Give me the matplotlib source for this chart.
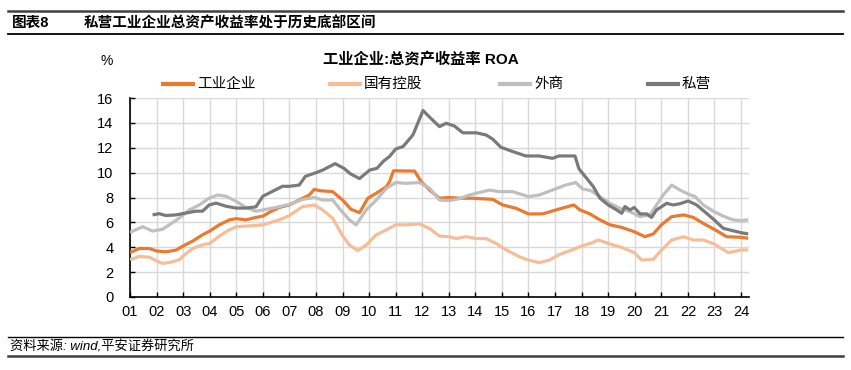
import matplotlib
matplotlib.use("Agg")
import matplotlib.pyplot as plt
from matplotlib.lines import Line2D

plt.rcParams['font.family'] = ['Liberation Sans', 'Noto Sans CJK SC', 'DejaVu Sans']

# ---------------- data (decimal year, ROA %) ----------------
ind_t = [2001.0, 2001.35, 2001.73, 2002.0, 2002.35, 2002.73, 2003.0, 2003.36, 2003.73, 2004.0,
         2004.36, 2004.74, 2005.0, 2005.36, 2005.74, 2006.0, 2006.24, 2006.62, 2007.0, 2007.37,
         2007.75, 2007.94, 2008.13, 2008.63, 2009.0, 2009.32, 2009.64, 2009.95, 2010.27, 2010.65,
         2010.77, 2010.92, 2011.4, 2011.71, 2011.96, 2012.28, 2012.65, 2013.0, 2013.4, 2013.9,
         2014.65, 2015.03, 2015.53, 2016.0, 2016.53, 2017.03, 2017.7, 2017.94, 2018.31, 2018.69,
         2019.07, 2019.5, 2019.98, 2020.38, 2020.7, 2021.0, 2021.39, 2021.83, 2022.2, 2022.58,
         2022.99, 2023.46, 2024.0, 2024.27]
ind_v = [3.58, 3.9, 3.9, 3.7, 3.63, 3.77, 4.1, 4.5, 5.0, 5.3,
         5.8, 6.2, 6.3, 6.2, 6.4, 6.5, 6.8, 7.2, 7.4, 7.8,
         8.2, 8.66, 8.55, 8.47, 7.8, 7.05, 6.78, 7.94, 8.34, 8.87,
         9.28, 10.15, 10.13, 10.13, 9.28, 8.6, 7.94, 8.0, 7.94, 7.94,
         7.85, 7.4, 7.13, 6.68, 6.68, 7.0, 7.4, 7.0, 6.68, 6.2,
         5.8, 5.6, 5.25, 4.85, 5.07, 5.8, 6.46, 6.6, 6.4, 5.92,
         5.44, 4.85, 4.8, 4.72]

soe_t = [2001.0, 2001.35, 2001.73, 2002.0, 2002.23, 2002.54, 2002.86, 2003.0, 2003.36, 2003.73,
         2004.0, 2004.36, 2004.74, 2005.0, 2005.36, 2005.74, 2006.0, 2006.24, 2006.62, 2007.0,
         2007.5, 2007.94, 2008.25, 2008.63, 2008.98, 2009.26, 2009.58, 2009.89, 2010.27, 2010.65,
         2011.0, 2011.4, 2011.9, 2012.28, 2012.65, 2013.0, 2013.28, 2013.65, 2014.03, 2014.4,
         2014.78, 2015.15, 2015.65, 2016.0, 2016.4, 2016.78, 2017.15, 2017.65, 2018.0, 2018.31,
         2018.63, 2019.07, 2019.5, 2019.98, 2020.26, 2020.7, 2021.01, 2021.39, 2021.83, 2022.2,
         2022.58, 2022.99, 2023.52, 2024.0, 2024.27]
soe_v = [3.0, 3.26, 3.2, 2.9, 2.7, 2.8, 3.0, 3.3, 3.9, 4.2,
         4.3, 4.9, 5.4, 5.65, 5.7, 5.75, 5.8, 5.95, 6.2, 6.55,
         7.27, 7.4, 7.0, 6.33, 5.0, 4.18, 3.73, 4.18, 5.0, 5.4,
         5.8, 5.8, 5.87, 5.5, 4.9, 4.85, 4.7, 4.85, 4.7, 4.7,
         4.3, 3.8, 3.24, 2.97, 2.76, 2.97, 3.4, 3.8, 4.1, 4.3,
         4.58, 4.26, 4.0, 3.57, 2.97, 3.03, 3.78, 4.58, 4.85, 4.58,
         4.58, 4.26, 3.57, 3.78, 3.78]

fdi_t = [2001.0, 2001.48, 2001.85, 2002.23, 2002.48, 2002.86, 2003.23, 2003.61, 2003.98, 2004.3,
         2004.61, 2004.99, 2005.36, 2005.74, 2006.0, 2006.49, 2007.0, 2007.5, 2007.94, 2008.25,
         2008.63, 2008.98, 2009.26, 2009.51, 2009.89, 2010.27, 2010.65, 2011.0, 2011.4, 2011.9,
         2012.28, 2012.65, 2013.0, 2013.4, 2013.78, 2014.15, 2014.53, 2014.9, 2015.4, 2016.0,
         2016.4, 2016.9, 2017.4, 2017.78, 2018.03, 2018.35, 2018.69, 2019.07, 2019.44, 2019.82,
         2020.2, 2020.57, 2020.82, 2021.07, 2021.39, 2021.7, 2022.01, 2022.27, 2022.58, 2022.99,
         2023.33, 2023.71, 2024.0, 2024.27]
fdi_v = [5.2, 5.65, 5.3, 5.45, 5.8, 6.35, 7.0, 7.4, 7.95, 8.2,
         8.1, 7.7, 7.2, 6.9, 7.0, 7.2, 7.45, 7.85, 8.0, 7.8,
         7.8, 6.86, 6.2, 5.8, 7.0, 7.8, 8.74, 9.2, 9.14, 9.2,
         8.74, 7.8, 7.75, 7.9, 8.2, 8.4, 8.6, 8.47, 8.47, 8.07,
         8.2, 8.6, 9.0, 9.2, 8.7, 8.55, 8.07, 7.53, 7.13, 6.86,
         6.46, 6.6, 7.4, 8.2, 9.0, 8.6, 8.28, 8.07, 7.4, 6.86,
         6.5, 6.2, 6.14, 6.2]

pvt_t = [2001.85, 2002.1, 2002.35, 2002.73, 2003.1, 2003.48, 2003.73, 2003.98, 2004.24, 2004.61,
         2004.99, 2005.36, 2005.74, 2006.0, 2006.37, 2006.74, 2007.0, 2007.37, 2007.6, 2007.94,
         2008.25, 2008.72, 2009.05, 2009.3, 2009.64, 2010.02, 2010.3, 2010.53, 2010.77, 2011.0,
         2011.28, 2011.65, 2012.03, 2012.21, 2012.65, 2012.9, 2013.21, 2013.53, 2014.03, 2014.4,
         2014.65, 2014.96, 2015.4, 2015.9, 2016.4, 2016.9, 2017.15, 2017.75, 2017.9, 2018.19,
         2018.44, 2018.69, 2019.0, 2019.32, 2019.51, 2019.63, 2019.82, 2019.98, 2020.2, 2020.45,
         2020.63, 2020.82, 2021.2, 2021.45, 2021.7, 2022.01, 2022.33, 2022.7, 2022.99, 2023.33,
         2023.58, 2024.0, 2024.27]
pvt_v = [6.6, 6.7, 6.55, 6.6, 6.75, 6.9, 6.9, 7.4, 7.55, 7.3,
         7.15, 7.15, 7.25, 8.1, 8.5, 8.9, 8.9, 9.0, 9.7, 9.95,
         10.2, 10.72, 10.35, 9.9, 9.52, 10.2, 10.35, 10.9, 11.3, 11.9,
         12.1, 13.03, 15.0, 14.6, 13.7, 13.97, 13.75, 13.2, 13.2, 13.03,
         12.7, 12.04, 11.7, 11.34, 11.34, 11.15, 11.34, 11.34, 10.3, 9.54,
         8.87, 7.94, 7.4, 7.0, 6.73, 7.27, 7.0, 7.2, 6.68, 6.68,
         6.4, 7.0, 7.53, 7.4, 7.5, 7.72, 7.4, 6.73, 6.2, 5.52,
         5.39, 5.17, 5.07]

series_names = ['工业企业', '国有控股', '外商', '私营']
series_colors = ['#E97A2E', '#F6BE98', '#BFBFBF', '#7A7A7A']
year_labels = ['01', '02', '03', '04', '05', '06', '07', '08', '09', '10', '11', '12',
               '13', '14', '15', '16', '17', '18', '19', '20', '21', '22', '23', '24']
y_ticks = [0, 2, 4, 6, 8, 10, 12, 14, 16]

# ---------------- figure ----------------
fig = plt.figure(figsize=(8.51, 3.70), dpi=100)
ax = fig.add_axes([130 / 851, 1 - 297 / 370, 619 / 851, 199 / 370])

data = [(ind_t, ind_v), (soe_t, soe_v), (fdi_t, fdi_v), (pvt_t, pvt_v)]
for (t, v), c in zip(data, series_colors):
    ax.plot(t, v, color=c, lw=2.3, solid_joinstyle='round', solid_capstyle='butt', zorder=3)

year_pos = [2001 + i for i in range(len(year_labels))]
ax.set_xlim(2001.0, 2024.3)
ax.set_ylim(0, 16)
ax.set_xticks(year_pos)
ax.set_xticklabels(year_labels)
ax.set_yticks(y_ticks)
ax.grid(True, color='#D9D9D9', lw=1.0, zorder=0)
ax.set_axisbelow(True)
for s in ['top', 'right']:
    ax.spines[s].set_visible(False)
for s in ['left', 'bottom']:
    ax.spines[s].set_color('black')
    ax.spines[s].set_linewidth(1.2)
ax.tick_params(axis='both', direction='in', length=3.5, width=1.0, color='black',
               labelsize=10.5, pad=6)
ax.tick_params(axis='y', pad=12)

# chart title, unit, legend
fig.text(421 / 851, 1 - 60 / 370, '工业企业:总资产收益率 ROA', ha='center', va='center',
         fontsize=11, fontweight='bold')
fig.text(107 / 851, 1 - 61 / 370, '%', ha='center', va='center', fontsize=10)

handles = [Line2D([0], [0], color=c, lw=3.0) for c in series_colors]
leg_x = [163, 330, 500, 648]
for h_x, name, c in zip(leg_x, series_names, series_colors):
    y = 1 - 84 / 370
    fig.add_artist(Line2D([h_x / 851, (h_x + 30) / 851], [y, y], color=c, lw=3.0,
                          transform=fig.transFigure))
    fig.text((h_x + 34) / 851, y, name, ha='left', va='center', fontsize=10.5)

# header band
fig.add_artist(Line2D([8 / 851, 843 / 851], [1 - 11 / 370, 1 - 11 / 370], color='#404040',
                      lw=1.8, transform=fig.transFigure))
fig.add_artist(Line2D([8 / 851, 843 / 851], [1 - 34 / 370, 1 - 34 / 370], color='black',
                      lw=1.3, transform=fig.transFigure))
fig.text(12 / 851, 1 - 23 / 370, '图表8', ha='left', va='center', fontsize=10.5,
         fontweight='bold')
fig.text(84 / 851, 1 - 23 / 370, '私营工业企业总资产收益率处于历史底部区间', ha='left',
         va='center', fontsize=10.5, fontweight='bold')

# footer
fig.add_artist(Line2D([8 / 851, 843 / 851], [1 - 337 / 370, 1 - 337 / 370], color='black',
                      lw=1.0, transform=fig.transFigure))
fig.add_artist(Line2D([8 / 851, 843 / 851], [1 - 356 / 370, 1 - 356 / 370], color='#404040',
                      lw=1.8, transform=fig.transFigure))
fig.text(10 / 851, 1 - 347 / 370, '资料来源: wind,平安证券研究所', ha='left', va='center',
         fontsize=9.5, style='italic')

fig.savefig('out.png', dpi=100)
